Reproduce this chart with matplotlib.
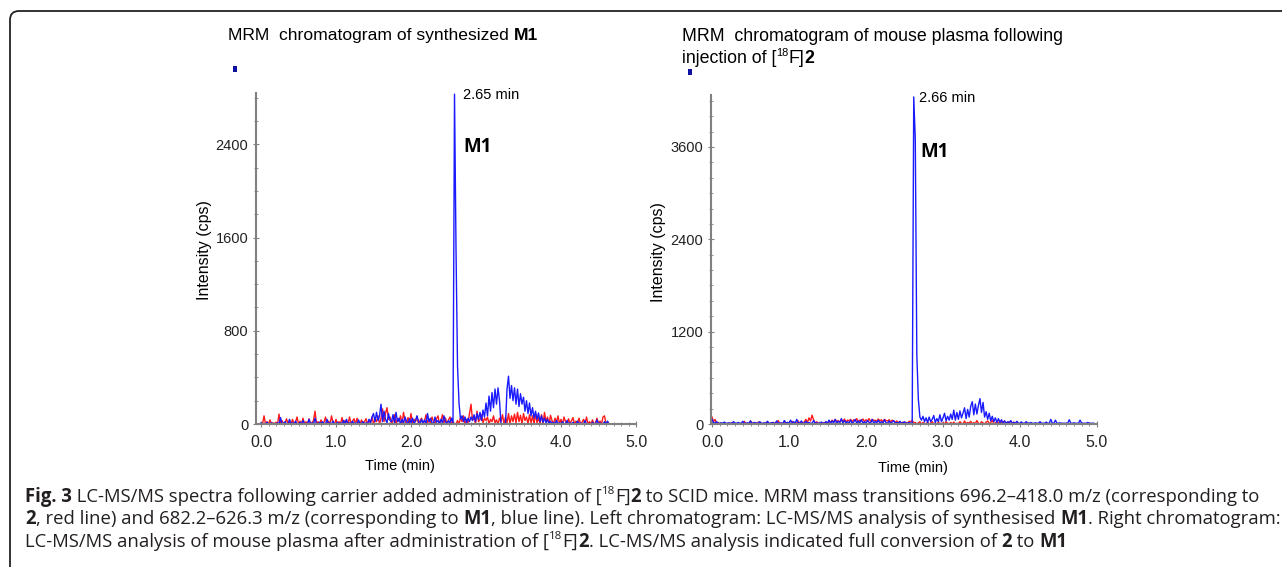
import numpy as np
import matplotlib.pyplot as plt
from matplotlib.patches import PathPatch, Rectangle
from matplotlib.path import Path
from matplotlib.ticker import MultipleLocator

plt.rcParams['font.family'] = ['Liberation Sans', 'DejaVu Sans']

W, H = 1282, 567

step = 0.02

left_blue = [
    10, 0, 5, 0, 15, 0, 0, 10, 0, 5,
    0, 10, 0, 55, 0, 5, 20, 0, 0, 40,
    0, 10, 0, 25, 0, 0, 15, 0, 30, 0,
    5, 0, 40, 0, 10, 0, 50, 0, 0, 15,
    0, 20, 0, 0, 40, 0, 10, 0, 25, 0,
    0, 15, 0, 10, 0, 30, 0, 40, 0, 10,
    0, 25, 0, 10, 0, 35, 0, 5, 20, 0,
    10, 0, 40, 10, 60, 90, 20, 100, 30, 70,
    170, 20, 110, 40, 10, 90, 30, 20, 80, 10,
    100, 20, 50, 0, 40, 10, 60, 20, 0, 45,
    10, 50, 0, 30, 70, 20, 0, 40, 10, 35,
    0, 90, 20, 50, 10, 0, 60, 15, 30, 0,
    40, 10, 70, 20, 0, 30, 10, 50, 10, 2830,
    1500, 500, 180, 40, 70, 20, 60, 10, 50, 20,
    60, 30, 80, 20, 90, 40, 100, 30, 120, 60,
    180, 70, 240, 110, 270, 140, 300, 170, 310, 200,
    0, 0, 0, 0, 300, 410, 220, 330, 200, 310,
    170, 300, 150, 260, 170, 230, 110, 200, 90, 180,
    70, 140, 50, 110, 40, 95, 20, 70, 15, 50,
    10, 40, 0, 25, 0, 15, 0, 30, 0, 10,
    0, 20, 0, 5, 30, 0, 10, 0, 15, 0,
    0, 25, 0, 10, 0, 0, 30, 0, 5, 0,
    0, 15, 0, 0, 35, 0, 10, 0, 0, 20,
    0, 25, 0, 0,
]

left_red = [
    0, 0, 70, 0, 20, 0, 35, 0, 10, 0,
    15, 0, 85, 0, 30, 0, 10, 45, 0, 20,
    0, 40, 0, 15, 60, 0, 25, 0, 50, 0,
    20, 0, 45, 0, 10, 30, 110, 0, 20, 0,
    35, 0, 15, 60, 0, 25, 0, 70, 10, 0,
    40, 0, 20, 0, 55, 0, 30, 15, 0, 60,
    0, 25, 45, 0, 50, 10, 0, 35, 0, 20,
    45, 0, 30, 10, 60, 0, 40, 20, 70, 0,
    50, 130, 20, 90, 140, 40, 60, 0, 30, 80,
    0, 45, 20, 70, 0, 100, 30, 0, 55, 10,
    90, 0, 40, 20, 65, 0, 30, 50, 0, 25,
    80, 10, 40, 0, 60, 20, 0, 45, 70, 0,
    30, 80, 10, 50, 0, 35, 60, 0, 20, 0,
    0, 30, 0, 55, 20, 70, 0, 40, 10, 90,
    170, 30, 60, 0, 110, 20, 40, 80, 10, 50,
    30, 60, 0, 40, 20, 70, 10, 35, 0, 50,
    20, 80, 0, 60, 10, 90, 0, 70, 20, 85,
    10, 100, 20, 75, 0, 90, 30, 60, 0, 80,
    10, 70, 0, 90, 10, 55, 0, 80, 0, 100,
    20, 60, 0, 75, 30, 0, 50, 15, 70, 0,
    40, 0, 60, 20, 0, 45, 0, 30, 55, 0,
    25, 0, 50, 0, 15, 40, 0, 60, 0, 20,
    0, 35, 0, 10, 50, 0, 25, 0, 60, 70,
    0,
]

right_blue = [
    60, 20, 10, 30, 10, 10, 15, 10, 25, 10,
    10, 15, 10, 10, 30, 10, 10, 20, 10, 10,
    35, 10, 10, 15, 10, 40, 10, 10, 20, 10,
    10, 30, 10, 10, 15, 10, 35, 10, 10, 20,
    10, 10, 40, 10, 15, 10, 10, 45, 10, 20,
    10, 50, 10, 30, 10, 60, 15, 10, 40, 10,
    10, 35, 10, 20, 10, 10, 45, 10, 15, 10,
    10, 25, 10, 10, 30, 10, 50, 10, 40, 15,
    60, 10, 35, 20, 70, 10, 45, 15, 30, 10,
    50, 10, 25, 60, 10, 40, 15, 55, 10, 30,
    10, 45, 20, 10, 60, 10, 35, 15, 50, 10,
    30, 10, 55, 15, 10, 40, 10, 25, 45, 10,
    20, 10, 35, 10, 15, 30, 10, 10, 20, 10,
    15, 4250, 3700, 900, 320, 90, 50, 100, 30, 80,
    20, 90, 30, 60, 110, 20, 70, 30, 120, 30,
    80, 140, 40, 100, 50, 130, 60, 180, 50, 150,
    60, 170, 80, 140, 210, 70, 190, 90, 230, 290,
    120, 260, 130, 240, 330, 150, 280, 90, 160, 60,
    140, 40, 100, 30, 80, 20, 70, 15, 55, 10,
    40, 10, 30, 15, 45, 10, 20, 10, 35, 10,
    10, 25, 10, 10, 30, 10, 10, 20, 10, 10,
    15, 10, 10, 30, 10, 10, 10, 25, 10, 10,
    60, 10, 10, 50, 10, 10, 15, 10, 10, 10,
    10, 10, 55, 10, 10, 15, 10, 10, 10, 50,
    10, 10, 10, 10, 20, 10, 10, 10, 10,
]

right_red = [
    90, 30, 60, 10, 20, 0, 10, 0, 15, 0,
    0, 10, 0, 20, 0, 5, 0, 15, 0, 10,
    0, 35, 0, 10, 0, 40, 0, 20, 10, 0,
    25, 0, 10, 0, 15, 0, 30, 0, 10, 0,
    20, 0, 10, 45, 0, 15, 0, 30, 0, 20,
    10, 0, 35, 0, 20, 10, 40, 0, 25, 0,
    30, 60, 20, 80, 40, 115, 50, 10, 30, 0,
    20, 0, 15, 10, 30, 0, 40, 20, 50, 25,
    60, 30, 45, 20, 55, 35, 65, 25, 50, 40,
    60, 30, 55, 40, 70, 25, 50, 45, 65, 30,
    55, 40, 70, 30, 60, 45, 50, 35, 65, 40,
    55, 30, 60, 45, 40, 55, 30, 50, 35, 20,
    40, 15, 30, 10, 25, 0, 20, 10, 35, 30,
    50, 10, 20, 0, 15, 30, 0, 20, 10, 0,
    25, 0, 10, 30, 0, 15, 0, 20, 10, 0,
    15, 0, 30, 10, 0, 20, 0, 25, 0, 10,
    0, 30, 10, 0, 40, 0, 20, 10, 35, 0,
    20, 0, 45, 10, 0, 30, 15, 0, 25, 40,
    0, 20, 50, 0, 15, 30, 0, 45, 10, 20,
    40, 0, 15, 30, 0, 10, 25, 0, 15, 0,
    0,
]

left_yticks = [0, 800, 1600, 2400]
right_yticks = [0, 1200, 2400, 3600]
xticks = [0, 1, 2, 3, 4, 5]

BLUE = '#1a1aff'
RED = '#ff1a1a'
AXC = '#808080'

fig = plt.figure(figsize=(W / 100, H / 100), dpi=100)


def fx(px):
    return px / W


def fy(py):
    return 1 - py / H


def text_width(s, **kw):
    r = fig.canvas.get_renderer()
    a = fig.text(0, 0, '|' + s + '|', **kw)
    b = fig.text(0, 0, '||', **kw)
    w = a.get_window_extent(r).width - b.get_window_extent(r).width
    a.remove()
    b.remove()
    return w


def rich(x, y, parts, size, family, color='black'):
    # draw a line of mixed normal / bold / superscript runs, y is the baseline (px from top)
    for s, kind in parts:
        kw = dict(fontsize=size * 0.62 if kind == 's' else size,
                  fontweight='bold' if kind == 'b' else 'normal',
                  family=family, color=color)
        dy = size * 0.42 * 100 / 72 if kind == 's' else 0
        fig.text(fx(x), fy(y - dy), s, va='baseline', ha='left', **kw)
        x += text_width(s, **kw)
    return x


def panel(rect, xlim, ylim, yticks, blue, red):
    ax = fig.add_axes(rect)
    tb = np.arange(len(blue)) * step
    tr = np.arange(len(red)) * step
    ax.plot(tr, red, color=RED, lw=1.0)
    ax.plot(tb, blue, color=BLUE, lw=1.0)
    ax.set_xlim(*xlim)
    ax.set_ylim(*ylim)
    ax.set_xticks(xticks)
    ax.set_xticklabels([f'{v:.1f}' for v in xticks])
    ax.set_yticks(yticks)
    ax.xaxis.set_minor_locator(MultipleLocator(0.1))
    ax.yaxis.set_minor_locator(MultipleLocator(200))
    for s in ['top', 'right']:
        ax.spines[s].set_visible(False)
    for s in ['left', 'bottom']:
        ax.spines[s].set_color(AXC)
        ax.spines[s].set_linewidth(1.5)
    ax.tick_params(axis='y', which='major', direction='inout', length=4, width=0.8,
                   color=AXC, labelsize=10.5, pad=3.5, labelcolor='#222222')
    ax.tick_params(axis='x', which='major', direction='inout', length=4, width=0.8,
                   color=AXC, labelsize=11.5, pad=6, labelcolor='#222222')
    ax.tick_params(which='minor', direction='inout', length=2.5, width=0.6, color=AXC)
    ax.patch.set_alpha(0)
    return ax


axl = panel([fx(256), fy(424), fx(636) - fx(256), fy(93) - fy(424)],
            (-0.067, 5.0), (0, 2840), left_yticks, left_blue, left_red)
axr = panel([fx(711), fy(424), fx(1097) - fx(711), fy(95) - fy(424)],
            (-0.013, 5.0), (0, 4275), right_yticks, right_blue, right_red)

# axis labels
for x, y in [(205, 250), (658, 252)]:
    fig.text(fx(x), fy(y), 'Intensity (cps)', rotation=90, ha='center', va='center', fontsize=11.5)
for x, y in [(400, 466), (913, 468)]:
    fig.text(fx(x), fy(y), 'Time (min)', ha='center', va='center', fontsize=10.5)

# titles
sans = ['Liberation Sans', 'DejaVu Sans']
rich(228, 40, [('MRM  chromatogram of synthesized ', 'n'), ('M1', 'b')], 12.6, sans)
rich(682, 41, [('MRM  chromatogram of mouse plasma following', 'n')], 12.8, sans)
rich(682, 63, [('injection of [', 'n'), ('18', 's'), ('F]', 'n'), ('2', 'b')], 12.8, sans)

# little legend squares
for x, y in [(233, 66), (688, 69)]:
    fig.patches.append(Rectangle((fx(x), fy(y + 6)), 4 / W, 6 / H, transform=fig.transFigure,
                                 facecolor='#1010a0', edgecolor='none'))

# peak annotations
fig.text(fx(463), fy(99), '2.65 min', fontsize=10.5, va='baseline')
fig.text(fx(919), fy(102), '2.66 min', fontsize=10.5, va='baseline')
hum = ['Open Sans', 'DejaVu Sans']
fig.text(fx(463), fy(152), 'M1', fontsize=13.5, weight='bold', family=hum, va='baseline')
fig.text(fx(920), fy(157), 'M1', fontsize=13.5, weight='bold', family=hum, va='baseline')

# caption
cap1 = [('Fig. 3', 'b'), (' LC-MS/MS spectra following carrier added administration of [', 'n'),
        ('18', 's'), ('F]', 'n'), ('2', 'b'),
        (' to SCID mice. MRM mass transitions 696.2\u2013418.0 m/z (corresponding to', 'n')]
cap2 = [('2', 'b'), (', red line) and 682.2\u2013626.3 m/z (corresponding to ', 'n'), ('M1', 'b'),
        (', blue line). Left chromatogram: LC-MS/MS analysis of synthesised ', 'n'), ('M1', 'b'),
        ('. Right chromatogram:', 'n')]
cap3 = [('LC-MS/MS analysis of mouse plasma after administration of [', 'n'), ('18', 's'),
        ('F]', 'n'), ('2', 'b'), ('. LC-MS/MS analysis indicated full conversion of ', 'n'),
        ('2', 'b'), (' to ', 'n'), ('M1', 'b')]

cap_size = 12
w2 = sum(text_width(s, fontsize=cap_size * (0.62 if k == 's' else 1),
                    fontweight='bold' if k == 'b' else 'normal', family=hum) for s, k in cap2)
cap_size = cap_size * (1278 - 25) / w2
for parts, base in [(cap1, 502), (cap2, 524.5), (cap3, 547)]:
    rich(25, base, parts, cap_size, hum, color='#231f20')

# frame: left edge and top edge with a rounded corner
r = 9
verts = [(10, H + 5), (10, 11 + r), (10, 11), (10 + r, 11), (W + 5, 11)]
codes = [Path.MOVETO, Path.LINETO, Path.CURVE3, Path.CURVE3, Path.LINETO]
frame = PathPatch(Path([(fx(x), fy(y)) for x, y in verts], codes),
                  transform=fig.transFigure, facecolor='none',
                  edgecolor='#222222', linewidth=1.3, clip_on=False)
fig.patches.append(frame)

fig.savefig('out.png', dpi=100)
